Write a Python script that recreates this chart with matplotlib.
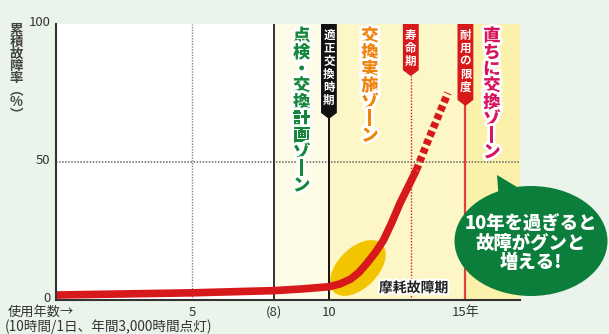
import matplotlib
matplotlib.use("Agg")
import matplotlib.pyplot as plt
from matplotlib.patches import Ellipse, Polygon
from matplotlib.transforms import ScaledTranslation
import matplotlib.patheffects as pe

plt.rcParams['font.family'] = ['Noto Sans CJK JP', 'DejaVu Sans']

# ---- data ----
years_solid = [0, 2.5, 5, 8, 9, 10, 10.4, 10.8, 11.1, 11.4, 11.7, 12.0, 12.3, 12.6, 12.9, 13.2]
rate_solid = [1.8, 2.2, 2.6, 3.4, 4.0, 4.8, 5.8, 7.6, 10.0, 13.4, 17.2, 21.7, 28, 35, 41, 47]
years_dash = [13.2, 13.6, 14.0, 14.36]
rate_dash = [47, 57, 66.5, 75]
x_ticks = [5, 8, 10, 15]
x_ticklabels = ["5", "(8)", "10", "15年"]
y_ticks = [0, 50, 100]
y_ticklabels = ["0", "50", "100"]
zone_edges = [0, 8, 10, 15, 17]
zone_colors = ["#FFFFFF", "#FEFBE6", "#FDF6C6", "#FBF1AA"]
flags = [  # x, text, colour, bottom of flag (%)
    (10, "適正交換時期", "#111111", 67.8),
    (13, "寿命期", "#D7191C", 83.3),
    (15, "耐用の限度", "#D7191C", 72.5),
]
zones = [  # x, text, colour
    (9.0, "点検・交換計画ゾーン", "#16873A"),
    (11.5, "交換実施ゾーン", "#EE840C"),
    (15.97, "直ちに交換ゾーン", "#D8155C"),
]

W, H, DPI = 6.09, 3.34, 100
fig = plt.figure(figsize=(W, H), dpi=DPI, facecolor="#EAF4EA")
ax = fig.add_axes([56 / 609, 34 / 334, (520 - 56) / 609, (300 - 24) / 334])
ax.set_xlim(0, 17)
ax.set_ylim(0, 100)
ax.set_facecolor("none")

# zone backgrounds
for i in range(len(zone_colors)):
    ax.axvspan(zone_edges[i], zone_edges[i + 1], color=zone_colors[i], zorder=0, lw=0)

# grid-like lines
ax.axhline(50, color="#666666", lw=1.1, ls=(0, (1, 1)), zorder=1)
ax.axvline(5, color="#888888", lw=1.0, ls=(0, (1, 1)), zorder=1)
ax.axvline(8, color="#333333", lw=1.4, zorder=1)


def vstack(s):
    return "\n".join("丨" if c == "ー" else c for c in s)


# flags and their lines
fw = 0.29
for x, label, col, bot in flags:
    tip = bot - 2.2
    if x == 10:
        ax.plot([x, x], [0, tip], color="#111111", lw=1.4, zorder=2)
    elif x == 13:
        ax.plot([x, x], [0, tip], color="#D7191C", lw=1.0, ls=(0, (1, 1.2)), zorder=2)
    else:
        ax.plot([x, x], [0, tip], color="#E0413F", lw=1.6, zorder=2)
    poly = Polygon([[x - fw, 100], [x + fw, 100], [x + fw, bot], [x, tip], [x - fw, bot]],
                   closed=True, facecolor=col, edgecolor="none", zorder=3)
    ax.add_patch(poly)
    ax.text(x, 98.3, vstack(label), ha="center", va="top", color="white",
            fontsize=8.3, fontweight="bold", linespacing=1.0, zorder=4)

# zone labels
for x, label, col in zones:
    ax.text(x, 98.8, vstack(label), ha="center", va="top", color=col,
            fontsize=12.5, fontweight="heavy", linespacing=0.9, zorder=5,
            path_effects=[pe.withStroke(linewidth=4, foreground="white")])

# yellow ellipse
trans = fig.dpi_scale_trans + ScaledTranslation(11.06, 11.6, ax.transData)
ax.add_patch(Ellipse((0, 0), 0.68, 0.40, angle=45, transform=trans,
                     facecolor="#F2C500", edgecolor="none", zorder=5))

# curve
ax.plot(years_solid, rate_solid, color="#D7191C", lw=5.5, solid_capstyle="butt",
        solid_joinstyle="round", zorder=6, clip_on=False)
ax.plot(years_dash, rate_dash, color="#D7191C", lw=5.5, ls=(0, (0.75, 0.45)),
        dash_capstyle="butt", zorder=6)

ax.text(13.1, 4.3, "摩耗故障期", ha="center", va="center", fontsize=10,
        fontweight="bold", color="#222222", zorder=7,
        path_effects=[pe.withStroke(linewidth=3, foreground="white")])

# axes styling
for s in ["top", "right"]:
    ax.spines[s].set_visible(False)
for s in ["left", "bottom"]:
    ax.spines[s].set_color("#333333")
    ax.spines[s].set_linewidth(1.5)
    ax.spines[s].set_zorder(8)
ax.set_xticks(x_ticks)
ax.set_xticklabels(x_ticklabels)
ax.set_yticks(y_ticks)
ax.set_yticklabels(y_ticklabels)
ax.tick_params(length=0, labelsize=9.5, colors="#333333", pad=4)
up = ScaledTranslation(0, 2.2 / 72, fig.dpi_scale_trans)
for lab in ax.get_yticklabels():
    lab.set_transform(lab.get_transform() + up)

fig.text(8 / 609, 1 - 312 / 334, "使用年数→", ha="left", va="center", fontsize=9.5, color="#333333")
fig.text(5 / 609, 1 - 327 / 334, "(10時間/1日、年間3,000時間点灯)", ha="left", va="center",
         fontsize=9.8, color="#333333")
fig.text(16 / 609, 1 - 23 / 334, "\n".join("累積故障率︵%︶"), ha="center", va="top",
         fontsize=9.7, fontweight="bold", color="#444444", linespacing=0.82)

# speech bubble
bub = fig.dpi_scale_trans
fig.add_artist(Ellipse((5.31, 3.34 - 2.41), 1.53, 1.10, transform=bub,
                       facecolor="#0B7E3C", edgecolor="none", zorder=10))
fig.add_artist(Polygon([[4.97, 3.34 - 1.75], [4.99, 3.34 - 2.02], [5.27, 3.34 - 1.93]],
                       closed=True, transform=bub, facecolor="#0B7E3C", edgecolor="none", zorder=10))
fig.text(531 / 609, 1 - 243 / 334, "10年を過ぎると\n故障がグンと\n増える!", ha="center", va="center",
         fontsize=13.2, fontweight="heavy", color="white", linespacing=1.02, zorder=11)

fig.savefig("out.png", dpi=DPI, facecolor=fig.get_facecolor())
